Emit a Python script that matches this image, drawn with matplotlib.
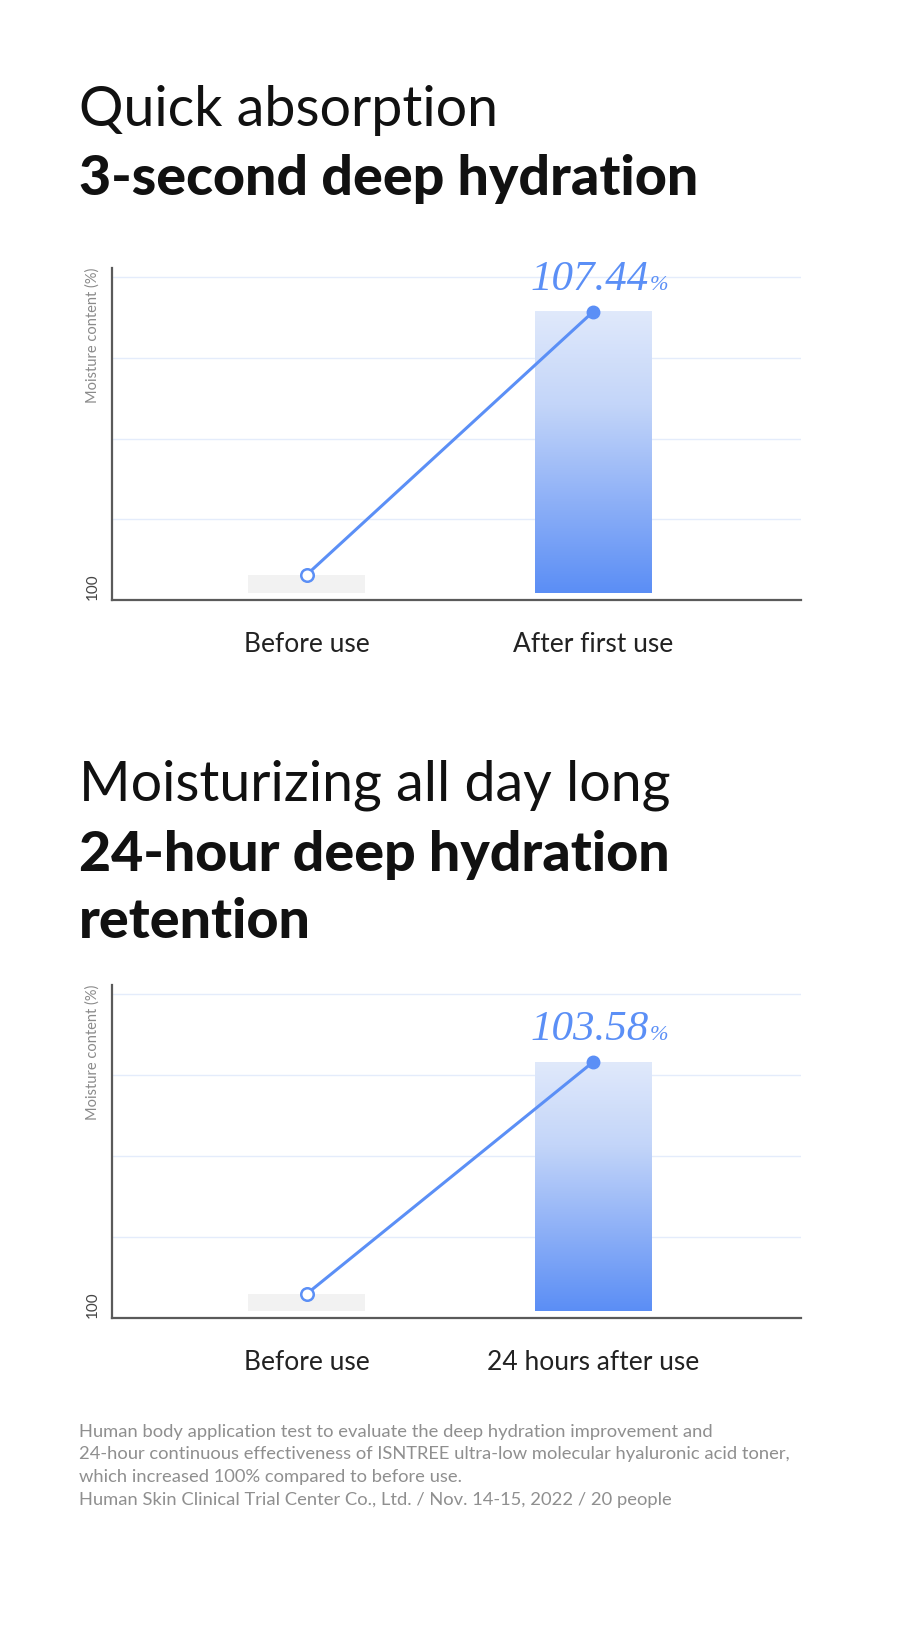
import numpy as np
import matplotlib
matplotlib.use("Agg")
import matplotlib.pyplot as plt
from matplotlib.colors import LinearSegmentedColormap

# ---------------------------------------------------------------------------
# Data
# ---------------------------------------------------------------------------

chart1_titles = ["Quick absorption", "3-second deep hydration"]
chart1_labels = ["Before use", "After first use"]
chart1_values = [100.0, 107.44]

chart2_titles = ["Moisturizing all day long", "24-hour deep hydration", "retention"]
chart2_labels = ["Before use", "24 hours after use"]
chart2_values = [100.0, 103.58]

footnote_lines = [
    "Human body application test to evaluate the deep hydration improvement and",
    "24-hour continuous effectiveness of ISNTREE ultra-low molecular hyaluronic acid toner,",
    "which increased 100% compared to before use.",
    "Human Skin Clinical Trial Center Co., Ltd. / Nov. 14-15, 2022 / 20 people",
]

Y_LABEL = "Moisture content (%)"
BASE_TICK = "100"

# ---------------------------------------------------------------------------
# Style
# ---------------------------------------------------------------------------

W, H = 900, 1630
BLUE = "#5b8ff6"
GRID = "#e4ecfb"
STUB = "#f2f2f2"
AXIS = "#5a5a5a"
SANS = ["Lato", "DejaVu Sans"]
SERIF = ["Liberation Serif", "DejaVu Serif"]

grad_cmap = LinearSegmentedColormap.from_list(
    "bar", ["#5b8ef5", "#8fb1f7", "#c3d5f9", "#e0e9fb"])


def px_rect(left, top, right, bottom):
    return [left / W, 1 - bottom / H, (right - left) / W, (bottom - top) / H]


def heading(fig, y_px, text, weight):
    fig.text(79 / W, 1 - y_px / H, text, fontsize=40, family=SANS,
             fontweight=weight, color="#111111", va="baseline")


def draw_chart(fig, rect, labels, values, ylim, base, label_y):
    ax = fig.add_axes(rect)
    x = np.arange(len(values))
    width = 0.408

    # stub bar for the reference value, gradient bar for the result
    ax.bar(x[0], values[0] - base, bottom=base, width=width, color=STUB, zorder=1)
    grad = np.linspace(0, 1, 256).reshape(-1, 1)
    ax.imshow(grad, cmap=grad_cmap, origin="lower", aspect="auto",
              extent=[x[1] - width / 2, x[1] + width / 2, base, values[1]],
              zorder=1, interpolation="bilinear")
    ax.set_xlim(-0.679, 1.726)
    ax.set_ylim(*ylim)

    ax.hlines([0.243, 0.486, 0.73, 0.973], 0, 1, transform=ax.transAxes,
              color=GRID, lw=1.0, zorder=0)

    ax.plot(x, values, color=BLUE, lw=2.2, zorder=3)
    ax.plot(x[0], values[0], "o", ms=9, mfc="white", mec=BLUE, mew=1.8, zorder=4)
    ax.plot(x[1], values[1], "o", ms=9, color=BLUE, zorder=4)

    ax.annotate(f"{values[1]:.2f}", (x[1], values[1]), xytext=(40, label_y),
                textcoords="offset points", ha="right", va="baseline",
                fontsize=31, style="italic", family=SERIF, color=BLUE)
    ax.annotate("%", (x[1], values[1]), xytext=(40.5, label_y),
                textcoords="offset points", ha="left", va="baseline",
                fontsize=16, style="italic", family=SERIF, color=BLUE)

    for s in ["top", "right"]:
        ax.spines[s].set_visible(False)
    ax.spines["left"].set_color(AXIS)
    ax.spines["bottom"].set_color(AXIS)
    ax.spines["left"].set_linewidth(1.6)
    ax.spines["bottom"].set_linewidth(1.6)
    ax.set_yticks([])
    ax.set_xticks(x)
    ax.set_xticklabels(labels, fontsize=19, family=SANS, color="#222222")
    ax.tick_params(axis="x", length=0, pad=23)

    ax.text(-0.018, 1.0, Y_LABEL, transform=ax.transAxes, rotation=90,
            ha="right", va="top", fontsize=10.5, family=SANS, color="#8a8a8a")
    ax.text(-0.018, 0.0, BASE_TICK, transform=ax.transAxes, rotation=90,
            ha="right", va="bottom", fontsize=11, family=SANS, color="#444444")
    return ax


fig = plt.figure(figsize=(W / 100, H / 100), dpi=100)
fig.patch.set_facecolor("white")

# headings
heading(fig, 126, chart1_titles[0], "normal")
heading(fig, 195, chart1_titles[1], "black")
heading(fig, 800, chart2_titles[0], "normal")
heading(fig, 871, chart2_titles[1], "black")
heading(fig, 938, chart2_titles[2], "black")

draw_chart(fig, px_rect(112, 268, 801, 600), chart1_labels, chart1_values,
           (99.29, 108.68), 99.49, 16)
draw_chart(fig, px_rect(112, 985, 801, 1318), chart2_labels, chart2_values,
           (99.63, 104.77), 99.74, 16)

for i, line in enumerate(footnote_lines):
    fig.text(79 / W, 1 - (1437 + i * 22.5) / H, line, fontsize=13.2,
             family=SANS, color="#8f8f8f", va="baseline")

fig.savefig("out.png", dpi=100)
